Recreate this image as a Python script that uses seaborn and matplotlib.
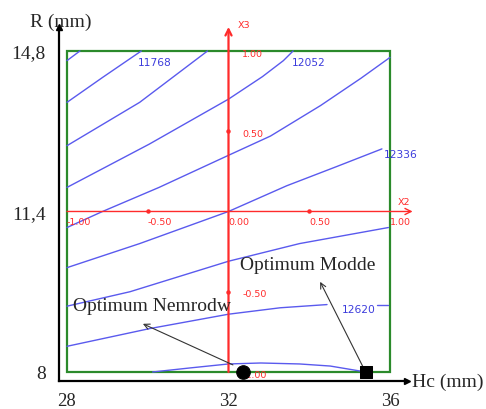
import numpy as np
import pandas as pd
import matplotlib
matplotlib.use("Agg")
import matplotlib.pyplot as plt
from matplotlib.patches import Rectangle
import seaborn as sns

# ---- data -----------------------------------------------------------------
# Iso-response curves in coded units: X2 (Hc) and X3 (R)
c11626_x2 = [-1.0, -0.92]
c11626_x3 = [0.94, 1.0]
c11768_x2 = [-1.0, -0.78, -0.54]
c11768_x3 = [0.68, 0.835, 1.0]
c11910_x2 = [-1.0, -0.55, -0.13]
c11910_x3 = [0.41, 0.68, 1.0]
c12052_x2 = [-1.0, -0.49, 0.0, 0.21, 0.34, 0.40]
c12052_x3 = [0.15, 0.42, 0.70, 0.84, 0.94, 1.0]
c12194_x2 = [-1.0, -0.78, -0.43, 0.0, 0.26, 0.57, 0.82, 1.0]
c12194_x3 = [-0.10, 0.0, 0.15, 0.35, 0.47, 0.66, 0.83, 0.96]
c12336_x2 = [-1.0, -0.55, 0.0, 0.36, 0.67, 0.95]
c12336_x3 = [-0.35, -0.20, 0.0, 0.16, 0.28, 0.39]
c12478_x2 = [-1.0, -0.61, 0.0, 0.44, 0.99]
c12478_x3 = [-0.59, -0.50, -0.31, -0.20, -0.10]
c12620_x2 = [-1.0, -0.49, 0.0, 0.32, 0.61]
c12620_x3 = [-0.84, -0.73, -0.64, -0.60, -0.58]
c12620b_x2 = [0.92, 0.99]
c12620b_x3 = [-0.58, -0.58]
c12762_x2 = [-0.47, -0.24, 0.0, 0.20, 0.44, 0.63, 0.85]
c12762_x3 = [-1.0, -0.975, -0.95, -0.944, -0.95, -0.963, -1.0]

# Level labels and where they sit (coded units)
label_text = ["11768", "12052", "12336", "12620"]
label_x2 = [-0.56, 0.39, 0.96, 0.70]
label_x3 = [0.93, 0.93, 0.36, -0.61]

# Optima found by each software (Hc mm, R mm)
opt_names = ["Optimum Nemrodw", "Optimum Modde"]
opt_hc = [32.35, 35.4]
opt_r = [8.0, 8.0]

# Real-unit axes
hc_ticks = [28, 32, 36]
hc_ticklabels = ["28", "32", "36"]
r_ticks = [8, 11.4, 14.8]
r_ticklabels = ["8", "11,4", "14,8"]

# Coded axes ticks
coded_ticks = [-1.0, -0.5, 0.0, 0.5, 1.0]

HC_C, HC_H = 32.0, 4.0
R_C, R_H = 11.4, 3.4


def hc(x2):
    return HC_C + HC_H * np.asarray(x2, dtype=float)


def rr(x3):
    return R_C + R_H * np.asarray(x3, dtype=float)


segments = [
    (c11626_x2, c11626_x3), (c11768_x2, c11768_x3), (c11910_x2, c11910_x3),
    (c12052_x2, c12052_x3), (c12194_x2, c12194_x3), (c12336_x2, c12336_x3),
    (c12478_x2, c12478_x3), (c12620_x2, c12620_x3), (c12620b_x2, c12620b_x3),
    (c12762_x2, c12762_x3),
]
frames = []
for i, (sx, sy) in enumerate(segments):
    frames.append(pd.DataFrame({"seg": i, "Hc": hc(sx), "R": rr(sy)}))
curves = pd.concat(frames, ignore_index=True)

# ---- style ----------------------------------------------------------------
sns.set_style("white")
plt.rcParams["font.family"] = ["Liberation Serif", "DejaVu Serif"]

BLUE = "#5a5aee"
BLUE_TXT = "#3c3cdc"
RED = "#ff2b2b"
GREEN = "#2b8a2b"

fig = plt.figure(figsize=(4.86, 4.10), dpi=100)
ax = fig.add_axes([59 / 486, 28 / 410, 348 / 486, 354 / 410])

# experimental domain
ax.add_patch(Rectangle((hc_ticks[0], r_ticks[0]), hc_ticks[-1] - hc_ticks[0],
                       r_ticks[-1] - r_ticks[0], fill=False, ec=GREEN,
                       lw=1.6, zorder=2))

# iso-response curves
sns.lineplot(data=curves, x="Hc", y="R", units="seg", estimator=None,
             sort=False, color=BLUE, lw=1.0, ax=ax, zorder=3)
for t, lx, ly in zip(label_text, label_x2, label_x3):
    ax.text(hc(lx), rr(ly), t, color=BLUE_TXT, fontsize=7.7,
            family="DejaVu Sans", ha="left", va="center", zorder=4)

ax.set_xlim(27.802, 36.421)
ax.set_ylim(7.809, 15.308)
ax.set_xlabel("")
ax.set_ylabel("")

for side in ("top", "right"):
    ax.spines[side].set_visible(False)
for side in ("left", "bottom"):
    ax.spines[side].set_color("black")
    ax.spines[side].set_linewidth(1.6)

ax.set_xticks(hc_ticks)
ax.set_xticklabels(hc_ticklabels)
ax.set_yticks(r_ticks)
ax.set_yticklabels(r_ticklabels)
ax.tick_params(axis="both", direction="out", length=6.5, width=1.4,
               color="black", labelsize=14)
ax.tick_params(axis="x", pad=1.5, labelsize=13.5)
ax.tick_params(axis="y", pad=3)

# arrowheads at the ends of the black axes
ax.plot(1, 0, marker=">", color="black", ms=5, transform=ax.transAxes,
        clip_on=False)
ax.plot(0, 1, marker="^", color="black", ms=5, transform=ax.transAxes,
        clip_on=False)

# coded axes X2 / X3
ax.annotate("", xy=(hc(1.14), rr(0)), xytext=(hc(-1.0), rr(0)),
            arrowprops=dict(arrowstyle="->", color=RED, lw=1.0,
                            shrinkA=0, shrinkB=0, mutation_scale=11),
            annotation_clip=False, zorder=3)
ax.annotate("", xy=(hc(0), rr(1.15)), xytext=(hc(0), rr(-1.0)),
            arrowprops=dict(arrowstyle="->", color=RED, lw=1.6,
                            shrinkA=0, shrinkB=0, mutation_scale=11),
            annotation_clip=False, zorder=3)
for v in coded_ticks:
    if v in (-0.5, 0.5):
        ax.plot(hc(v), rr(0), "o", color=RED, ms=2.2, zorder=3)
        ax.plot(hc(0), rr(v), "o", color=RED, ms=2.2, zorder=3)
    ax.annotate(f"{v:.2f}", (hc(v), rr(0)), xytext=(0, -4),
                textcoords="offset points", ha="left", va="top",
                color=RED, fontsize=6.8, family="DejaVu Sans", zorder=3)
    if v != 0.0:
        ax.annotate(f"{v:.2f}", (hc(0), rr(v)), xytext=(10, -1.5),
                    textcoords="offset points", ha="left", va="center",
                    color=RED, fontsize=6.8, family="DejaVu Sans", zorder=3)
ax.text(hc(1.05), rr(0.065), "X2", color=RED, fontsize=6.8,
        family="DejaVu Sans", ha="left", va="center")
ax.text(hc(0.06), rr(1.162), "X3", color=RED, fontsize=6.8,
        family="DejaVu Sans", ha="left", va="center", clip_on=False)

# optima
sns.scatterplot(x=[opt_hc[0]], y=[opt_r[0]], marker="o", s=95,
                color="black", edgecolor="black", ax=ax, zorder=6,
                clip_on=False)
sns.scatterplot(x=[opt_hc[1]], y=[opt_r[1]], marker="s", s=85,
                color="black", edgecolor="black", ax=ax, zorder=6,
                clip_on=False)

ax.text(28.15, 9.40, opt_names[0], fontsize=14, ha="left", va="center",
        zorder=5)
ax.text(32.28, 10.27, opt_names[1], fontsize=14, ha="left", va="center",
        zorder=5)
arrow_kw = dict(arrowstyle="->", color="#333333", lw=0.8,
                shrinkA=0, shrinkB=0, mutation_scale=10)
ax.annotate("", xy=(29.88, 9.02), xytext=(32.11, 8.15),
            arrowprops=arrow_kw, zorder=5)
ax.annotate("", xy=(34.27, 9.91), xytext=(35.33, 8.11),
            arrowprops=arrow_kw, zorder=5)

# axis titles
fig.text(61 / 486, 1 - 22 / 410, "R (mm)", fontsize=14, ha="center",
         va="center")
fig.text(412 / 486, 1 - 382 / 410, "Hc (mm)", fontsize=14, ha="left",
         va="center")

fig.savefig("out.png", dpi=100, facecolor="white")
